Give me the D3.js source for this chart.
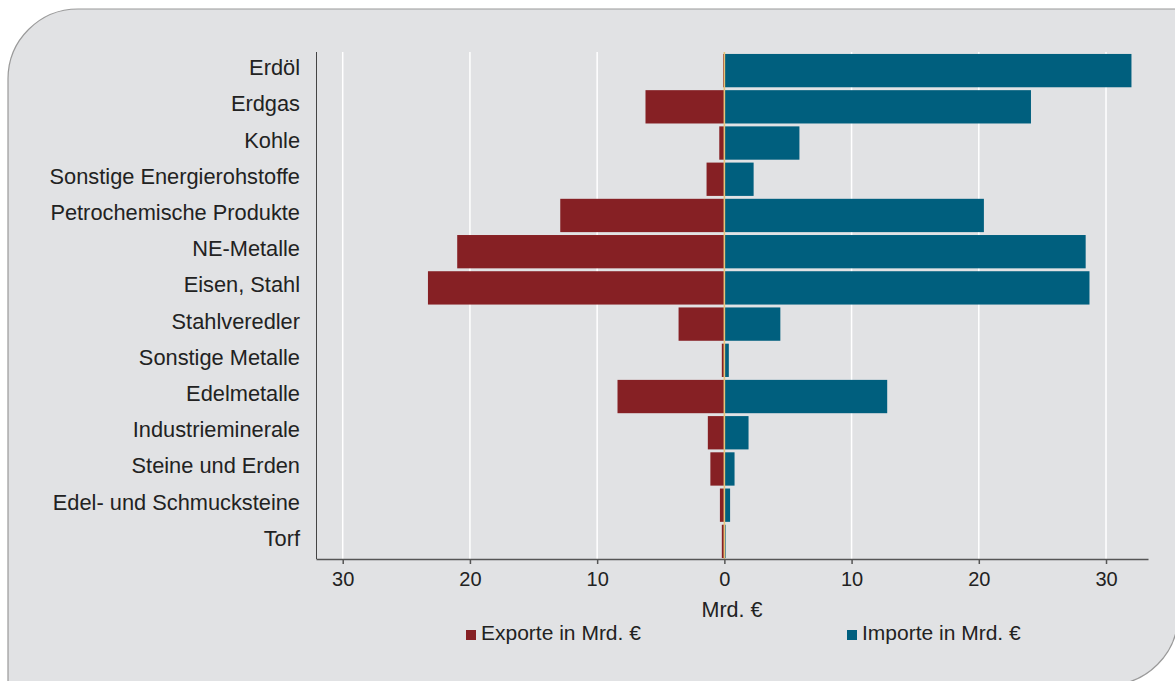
<!DOCTYPE html>
<html>
<head>
<meta charset="utf-8">
<script src="https://cdn.jsdelivr.net/npm/d3@7/dist/d3.min.js"></script>
<style>
  html, body { margin: 0; padding: 0; background: #ffffff; }
  svg { display: block; font-family: "Liberation Sans", Arial, Helvetica, sans-serif; }
</style>
</head>
<body>
<svg id="chart" width="1175" height="681"></svg>
<script>
// Rohstoffhandel: Exporte (links) und Importe (rechts), in Mrd. €
const categories = [
  "Erdöl", "Erdgas", "Kohle", "Sonstige Energierohstoffe",
  "Petrochemische Produkte", "NE-Metalle", "Eisen, Stahl", "Stahlveredler",
  "Sonstige Metalle", "Edelmetalle", "Industrieminerale", "Steine und Erden",
  "Edel- und Schmucksteine", "Torf"
];
const exporte = [0.1, 6.2, 0.4, 1.4, 12.9, 21.0, 23.3, 3.6, 0.2, 8.4, 1.3, 1.1, 0.35, 0.2];
const importe = [32.0, 24.1, 5.9, 2.3, 20.4, 28.4, 28.7, 4.4, 0.35, 12.8, 1.9, 0.8, 0.45, 0.1];
const tickValues = [-30, -20, -10, 0, 10, 20, 30];
const legendLabels = ["Exporte in Mrd. €", "Importe in Mrd. €"];
const axisTitle = "Mrd. €";

const colors = { exporte: "#862024", importe: "#005f7e", zero: "#e6c47a", bg: "#e1e2e4", text: "#222222" };

const svg = d3.select("#chart");

// card with rounded top-left and bottom-right corners
const cx0 = 8, cy0 = 9, cx1 = 1178, cy1 = 685, r = 70;
const cardPath = d3.path();
cardPath.moveTo(cx0, cy0 + r);
cardPath.arcTo(cx0, cy0, cx0 + r, cy0, r);
cardPath.lineTo(cx1, cy0);
cardPath.lineTo(cx1, cy1 - r);
cardPath.arcTo(cx1, cy1, cx1 - r, cy1, r);
cardPath.lineTo(cx0, cy1);
cardPath.closePath();
svg.append("path").attr("d", cardPath.toString())
  .attr("fill", colors.bg).attr("stroke", "#9a9a9a").attr("stroke-width", 1.2);

const margin = { left: 316, right: 1148, top: 52, bottom: 559 };

const x = d3.scaleLinear().domain([-32.1, 33.3]).range([margin.left, margin.right]);
const y = d3.scaleBand().domain(categories).range([52.5, 559.5]).paddingInner(0.08).paddingOuter(0.04);

// vertical gridlines
svg.append("g").selectAll("line")
  .data(tickValues.filter(d => d !== 0))
  .join("line")
  .attr("x1", d => x(d)).attr("x2", d => x(d))
  .attr("y1", margin.top).attr("y2", margin.bottom)
  .attr("stroke", "#ffffff").attr("stroke-width", 1.5);

const rows = categories.map((c, i) => ({ c, ex: exporte[i], im: importe[i] }));

// export bars (to the left of zero)
svg.append("g").selectAll("rect")
  .data(rows).join("rect")
  .attr("x", d => x(-d.ex)).attr("width", d => x(0) - x(-d.ex))
  .attr("y", d => y(d.c)).attr("height", y.bandwidth())
  .attr("fill", colors.exporte);

// import bars (to the right of zero)
svg.append("g").selectAll("rect")
  .data(rows).join("rect")
  .attr("x", x(0)).attr("width", d => x(d.im) - x(0))
  .attr("y", d => y(d.c)).attr("height", y.bandwidth())
  .attr("fill", colors.importe);

// zero line
svg.append("line")
  .attr("x1", x(0)).attr("x2", x(0))
  .attr("y1", margin.top).attr("y2", margin.bottom)
  .attr("stroke", colors.zero).attr("stroke-width", 1.6);

// category labels
svg.append("g").selectAll("text")
  .data(categories).join("text")
  .attr("x", 300)
  .attr("y", d => y(d) + y.bandwidth() / 2 + 4.5)
  .attr("text-anchor", "end")
  .attr("font-size", 21.8)
  .attr("fill", colors.text)
  .text(d => d);

// left axis line
svg.append("line")
  .attr("x1", margin.left + 0.5).attr("x2", margin.left + 0.5)
  .attr("y1", margin.top).attr("y2", margin.bottom)
  .attr("stroke", "#444").attr("stroke-width", 1);

// bottom axis
const xAxis = d3.axisBottom(x).tickValues(tickValues).tickFormat(d => Math.abs(d)).tickSize(5).tickSizeOuter(0);
const gx = svg.append("g").attr("transform", `translate(0,${margin.bottom})`).call(xAxis);
gx.select(".domain").attr("stroke", "#555").attr("stroke-width", 1.5);
gx.selectAll(".tick line").attr("stroke", "#555").attr("stroke-width", 1.5);
gx.selectAll(".tick text")
  .attr("font-size", 20).attr("font-family", "Liberation Sans, Arial, sans-serif")
  .attr("fill", colors.text).attr("dy", null).attr("y", 27);

// axis title
svg.append("text")
  .attr("x", (margin.left + margin.right) / 2).attr("y", 617)
  .attr("text-anchor", "middle").attr("font-size", 21.5).attr("fill", colors.text)
  .text(axisTitle);

// legend
const legend = [
  { label: legendLabels[0], color: colors.exporte, x: 466 },
  { label: legendLabels[1], color: colors.importe, x: 847 }
];
const lg = svg.append("g").selectAll("g").data(legend).join("g")
  .attr("transform", d => `translate(${d.x},630)`);
lg.append("rect").attr("width", 10).attr("height", 10).attr("fill", d => d.color);
lg.append("text").attr("x", 15).attr("y", 9.5)
  .attr("font-size", 21).attr("fill", colors.text).text(d => d.label);
</script>
</body>
</html>
